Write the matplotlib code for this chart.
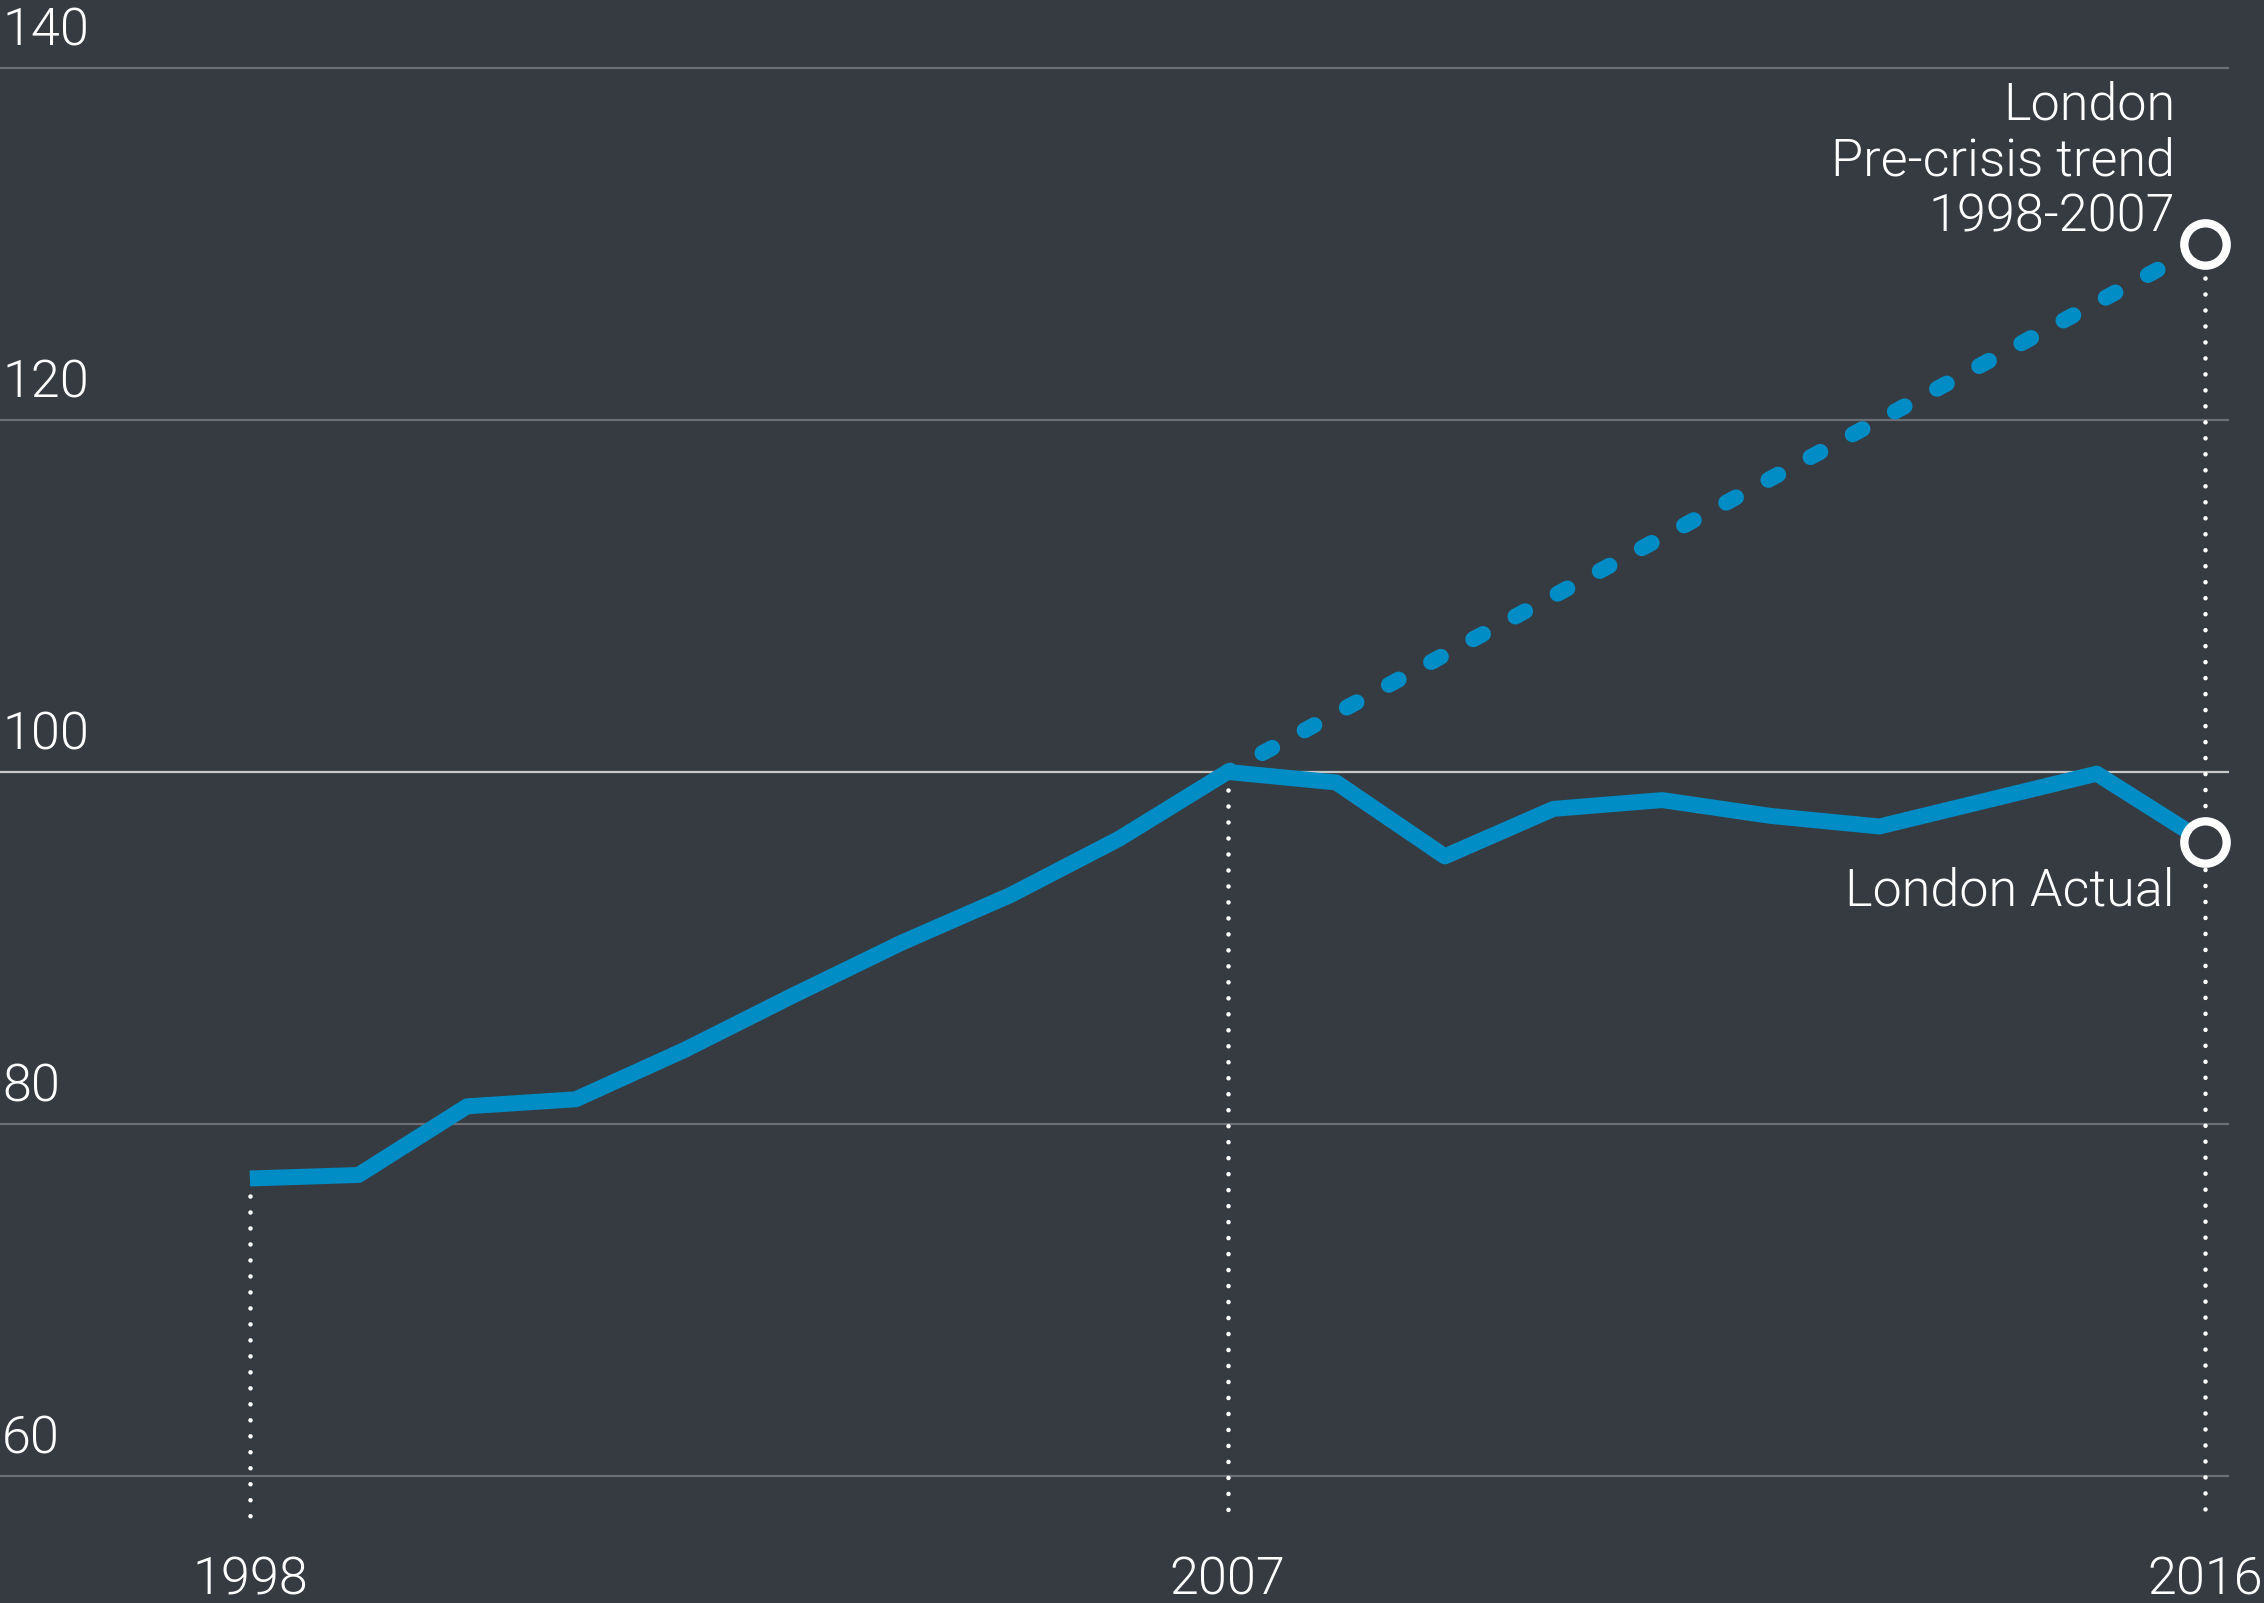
import matplotlib
matplotlib.use("Agg")
import matplotlib.pyplot as plt

years = list(range(1998, 2017))
actual = [76.9, 77.1, 81.0, 81.4, 84.2, 87.3, 90.3, 93.0, 96.2, 100.0,
          99.4, 95.2, 97.9, 98.4, 97.5, 96.9, 98.4, 99.9, 96.0]
trend_years = [2007, 2016]
trend = [100.0, 130.0]
y_ticks = [60, 80, 100, 120, 140]
x_ticks = [1998, 2007, 2016]
x_tick_values = [actual[0], actual[9], trend[1]]
trend_label = ["London", "Pre-crisis trend", "1998-2007"]
trend_label_y = [137.05, 133.86, 130.68]

bg = "#353b41"
blue = "#008cc4"

plt.rcParams["lines.scale_dashes"] = False
font = dict(family=["Roboto", "DejaVu Sans"], weight=300, color="white", fontsize=37.5)

fig = plt.figure(figsize=(22.64, 16.03), dpi=100, facecolor=bg)
ax = fig.add_axes([0, 0, 1, 1])
ax.set_facecolor(bg)
ax.set_xlim(1995.70, 2016.54)
ax.set_ylim(52.78, 143.86)
ax.axis("off")

# gridlines and y labels
for v in y_ticks:
    col = "#c8c8c8" if v == 100 else "#6c7075"
    ax.axhline(v, xmin=0, xmax=0.984, color=col, lw=1.6, zorder=1)
    ax.text(1995.72, v + 1.25, str(v), ha="left", va="baseline", **font)

# vertical dotted markers
for x, top in zip(x_ticks, x_tick_values):
    ax.plot([x, x], [top - 1.0, 57.4], color="white", lw=3.3,
            linestyle=(0, (0.01, 11.5)), dash_capstyle="round", zorder=4)

# pre-crisis trend
ax.plot(trend_years, trend, color=blue, lw=11.5, linestyle=(6, (8, 26.5)),
        dash_capstyle="round", zorder=2)

# actual
ax.plot(years, actual, color=blue, lw=11.5, solid_joinstyle="round",
        solid_capstyle="butt", zorder=3)

# end markers
ax.plot([2016, 2016], [trend[1], actual[-1]], linestyle="none", marker="o",
        ms=30.5, mew=6, mec="white", mfc=bg, zorder=5)

# x labels
for x in x_ticks:
    ax.text(x, 53.25, str(x), ha="center", va="baseline", **font)

# annotations
for txt, y in zip(trend_label, trend_label_y):
    ax.text(2015.72, y, txt, ha="right", va="baseline", **font)
ax.text(2015.72, 92.39, "London Actual", ha="right", va="baseline", **font)

fig.savefig("out.png", dpi=100, facecolor=bg)
